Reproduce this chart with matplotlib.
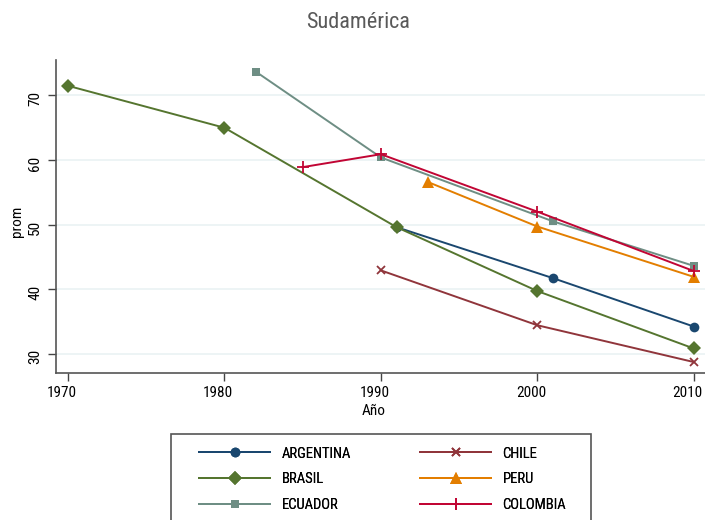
import matplotlib
matplotlib.use("Agg")
import matplotlib.pyplot as plt
from matplotlib import font_manager
from matplotlib.patches import Rectangle
from matplotlib.transforms import ScaledTranslation

entries = font_manager.fontManager.ttflist
names = {f.name for f in entries}
fam = None
for cand in ['Liberation Sans Narrow', 'Roboto Condensed', 'Open Sans Condensed',
             'Noto Sans Condensed', 'DejaVu Sans Condensed']:
    if cand in names:
        fam = cand
        break
stretch = 'normal'
if fam is None:
    cond = [f for f in entries if str(f.stretch) in ('condensed', 'semi-condensed', 'extra-condensed')
            and f.style == 'normal' and f.weight in (400, 'normal')]
    if cond:
        pref = [f for f in cond if f.name in ('DejaVu Sans', 'Noto Sans', 'Open Sans', 'Roboto')]
        pick = (pref or cond)[0]
        fam = pick.name
        stretch = pick.stretch
    else:
        fam = 'DejaVu Sans'
plt.rcParams['font.family'] = [fam, 'DejaVu Sans']
plt.rcParams['font.stretch'] = stretch

# Data
arg_years = [1991, 2001, 2010]
arg_vals = [49.6, 41.7, 34.2]
bra_years = [1970, 1980, 1991, 2000, 2010]
bra_vals = [71.5, 65.0, 49.6, 39.7, 30.8]
ecu_years = [1982, 1990, 2001, 2010]
ecu_vals = [73.7, 60.4, 50.5, 43.6]
chi_years = [1990, 2000, 2010]
chi_vals = [42.9, 34.4, 28.7]
per_years = [1993, 2000, 2010]
per_vals = [56.6, 49.7, 41.9]
col_years = [1985, 1990, 2000, 2010]
col_vals = [58.9, 60.9, 52.0, 42.8]

xticks = [1970, 1980, 1990, 2000, 2010]
yticks = [30, 40, 50, 60, 70]

fig = plt.figure(figsize=(7.05, 5.2), dpi=100)
ax = fig.add_axes([56/705, 1-373/520, (705-56)/705, (373-60)/520])

grid_c = '#eaf2f3'
for y in yticks:
    ax.axhline(y, color=grid_c, lw=1.2, zorder=0)

series = [
    ('ARGENTINA', arg_years, arg_vals, '#1a476f', 'o', 7),
    ('BRASIL', bra_years, bra_vals, '#55752f', 'D', 7),
    ('ECUADOR', ecu_years, ecu_vals, '#6e8e84', 's', 6),
    ('CHILE', chi_years, chi_vals, '#90353b', 'x', 5.5),
    ('PERU', per_years, per_vals, '#e37e00', '^', 8),
    ('COLOMBIA', col_years, col_vals, '#c10534', '+', 8),
]
handles = {}
for name, xs, ys, c, m, ms in series:
    mew = 1.3 if m in ('x', '+') else 0
    h, = ax.plot(xs, ys, color=c, lw=1.4, marker=m, markersize=ms,
                 markeredgewidth=mew, markeredgecolor=c, markerfacecolor=c, label=name)
    handles[name] = h

ax.set_xlim(1969.23, 2010.72)
ax.set_ylim(27, 75.5)
ax.set_xticks(xticks)
ax.set_yticks(yticks)
ax.set_yticklabels([str(v) for v in yticks], rotation=90, va='center')
ax.tick_params(axis='both', direction='out', length=6, width=1, color='#444444',
               labelsize=11, colors='black')
ax.tick_params(axis='y', pad=4)
for s in ['top', 'right']:
    ax.spines[s].set_visible(False)
for s in ['left', 'bottom']:
    ax.spines[s].set_color('#555555')
    ax.spines[s].set_linewidth(1.2)
ax.set_xlabel('Año', fontsize=11, labelpad=3)
ax.set_ylabel('prom', fontsize=11, labelpad=3)

# small offsets like the reference rendering
dx = ScaledTranslation(-6.5/100, 0, fig.dpi_scale_trans)
for lbl in ax.get_xticklabels():
    lbl.set_transform(lbl.get_transform() + dx)
ax.xaxis.label.set_transform(ax.xaxis.label.get_transform() + dx)
dy = ScaledTranslation(0, -3/100, fig.dpi_scale_trans)
for lbl in ax.get_yticklabels():
    lbl.set_transform(lbl.get_transform() + dy)
ax.yaxis.label.set_transform(ax.yaxis.label.get_transform() + ScaledTranslation(0, -5/100, fig.dpi_scale_trans))

fig.text(358/705, 1-22/520, 'Sudamérica', ha='center', va='center', fontsize=16, color='#595959')

# legend frame
fig.patches.append(Rectangle((171/705, -0.05), (591-171)/705, 1-434/520+0.05,
                             transform=fig.transFigure, fill=False, edgecolor='#555555',
                             linewidth=1.2, zorder=0))

col1 = ['ARGENTINA', 'BRASIL', 'ECUADOR']
col2 = ['CHILE', 'PERU', 'COLOMBIA']
top_y = 1 - 446.5/520
for names_c, x0 in ((col1, 199/705), (col2, 420/705)):
    lg = fig.legend([handles[n] for n in names_c], names_c, loc='upper left',
                    bbox_to_anchor=(x0, top_y), frameon=False, fontsize=10.5,
                    handlelength=4.9, handletextpad=0.75, borderpad=0, borderaxespad=0,
                    labelspacing=0.82)
    fig.add_artist(lg)

fig.savefig('out.png', dpi=100)
